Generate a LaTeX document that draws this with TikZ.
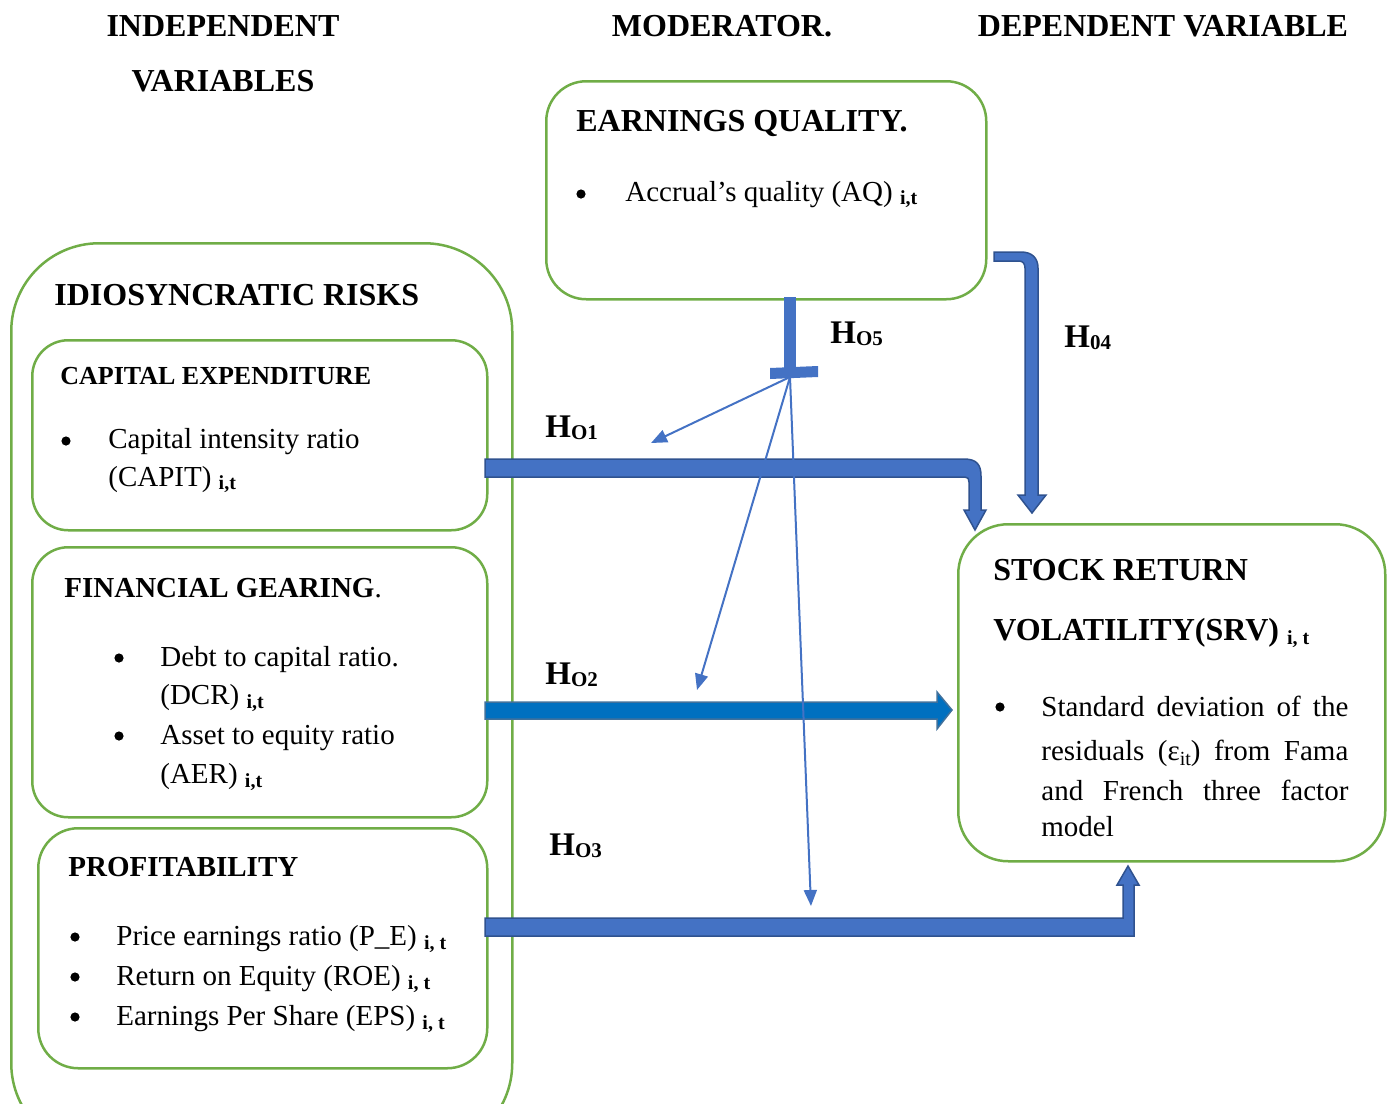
\documentclass[tikz,border=0pt]{standalone}
\usepackage{fontspec}
\setmainfont{Liberation Serif}
\usetikzlibrary{arrows.meta}
\definecolor{grn}{HTML}{70AD47}
\definecolor{blu}{HTML}{4472C4}
\definecolor{bluedge}{HTML}{2F528F}
\definecolor{blutwo}{HTML}{0070C0}
\definecolor{blutwoedge}{HTML}{41719C}
\newcommand{\fsz}[1]{\fontsize{#1}{#1}\selectfont}
\newcommand{\subit}[1]{\raisebox{-0.3ex}{\fsz{10}\bfseries #1}}
\newcommand{\hyp}[1]{\fsz{16.5}\bfseries H\raisebox{-1pt}{\fsz{10.5}#1}}
\begin{document}
\begin{tikzpicture}[x=0.5pt,y=-0.5pt,
  gbox/.style={draw=grn, line width=1.25pt, anchor=north west, inner sep=0pt},
  txt/.style={anchor=base west, inner sep=0pt, font=\fsz{14.5}},
  head/.style={anchor=base, inner sep=0pt, font=\fsz{16}\bfseries},
  ttl/.style={anchor=base west, inner sep=0pt, font=\fsz{16}\bfseries},
  sttl/.style={anchor=base west, inner sep=0pt, font=\fsz{14.5}\bfseries},
  bul/.style={circle, fill=black, inner sep=0pt, minimum size=4.6pt},
  hlab/.style={anchor=base west, inner sep=0pt},
  thick arrow/.style={fill=blu, draw=bluedge, line width=0.75pt, line join=miter},
  thin/.style={draw=blu, line width=1pt, -{Triangle[length=8pt,width=6.5pt]}}
]
\useasboundingbox (0,0) rectangle (1394,1104);
\clip (0,0) rectangle (1394,1104);

% headers
\node[head] (h1) at (223,36) {INDEPENDENT};
\node[head] (h2) at (223,91) {VARIABLES};
\node[head] (h3) at (722,36) {MODERATOR.};
\node[head] (h4) at (1163,36) {DEPENDENT VARIABLE};

% boxes
\node[gbox, rounded corners=20pt, minimum width=220pt, minimum height=109pt] (eq) at (545,80) {};
\node[gbox, rounded corners=44pt, minimum width=250.5pt, minimum height=454pt] (outer) at (10,242) {};
\node[gbox, rounded corners=18pt, minimum width=227.5pt, minimum height=95pt] (cap) at (31,339) {};
\node[gbox, rounded corners=18pt, minimum width=227.5pt, minimum height=135pt] (fin) at (31,546) {};
\node[gbox, rounded corners=20pt, minimum width=224.5pt, minimum height=120pt] (prof) at (37,827) {};
\node[gbox, rounded corners=25pt, minimum width=213.5pt, minimum height=168.5pt] (srv) at (957,523) {};

% earnings quality
\node[ttl] (eqt) at (576,131) {EARNINGS QUALITY.};
\node[bul] (eqb) at (581,194) {};
\node[txt] (eqx) at (625,201) {Accrual’s quality (AQ) \subit{i,t}};

% idiosyncratic
\node[ttl] (idt) at (54,305) {IDIOSYNCRATIC RISKS};

% capital
\node[anchor=base west, inner sep=0pt, font=\fsz{13}\bfseries] (capt) at (60,384) {CAPITAL EXPENDITURE};
\node[bul] (capb) at (66,441) {};
\node[txt] (capx1) at (108,448) {Capital intensity ratio};
\node[txt] (capx2) at (108,486) {(CAPIT) \subit{i,t}};

% financial
\node[sttl] (fint) at (64,597) {FINANCIAL GEARING\textmd{.}};
\node[bul] (finb1) at (119,658) {};
\node[txt] (finx1) at (160,666) {Debt to capital ratio.};
\node[txt] (finx2) at (160,704) {(DCR) \subit{i,t}};
\node[bul] (finb2) at (119,736) {};
\node[txt] (finx3) at (160,744) {Asset to equity ratio};
\node[txt] (finx4) at (160,783) {(AER) \subit{i,t}};

% profitability
\node[sttl] (proft) at (68,876) {PROFITABILITY};
\node[bul] (pb1) at (75,937) {};
\node[txt] (px1) at (116,945) {Price earnings ratio (P\_E) \subit{i, t}};
\node[bul] (pb2) at (75,977) {};
\node[txt] (px2) at (116,985) {Return on Equity (ROE) \subit{i, t}};
\node[bul] (pb3) at (75,1017) {};
\node[txt] (px3) at (116,1025) {Earnings Per Share (EPS) \subit{i, t}};

% SRV
\node[ttl] (srvt1) at (993,580) {STOCK RETURN};
\node[ttl] (srvt2) at (993,640) {VOLATILITY(SRV) \subit{i, t}};
\node[bul] (srvb) at (1000,707) {};
\node[txt] (srvx1) at (1041,716) {\hbox to 153.5pt{Standard\hfill deviation\hfill of\hfill the}};
\node[txt] (srvx2) at (1041,760) {\hbox to 153.5pt{residuals\hfill (ε\raisebox{-0.4ex}{\fsz{10}it})\hfill from\hfill Fama}};
\node[txt] (srvx3) at (1041,800) {\hbox to 153.5pt{and\hfill French\hfill three\hfill factor}};
\node[txt] (srvx4) at (1041,836) {model};

% hypothesis labels
\node[hlab] (ho1) at (545,437) {\hyp{O1}};
\node[hlab] (ho2) at (545,684) {\hyp{O2}};
\node[hlab] (ho3) at (549,855) {\hyp{O3}};
\node[hlab] (ho5) at (830,343) {\hyp{O5}};
\node[hlab] (ho4) at (1064,347) {\hyp{04}};

% Ho1 bent arrow
\filldraw[thick arrow] (485,459) -- (964,459) .. controls (977,459) and (981,465) .. (981,476)
  -- (981,510) -- (986,510) -- (975,530) -- (964,510) -- (969,510) -- (969,482)
  .. controls (969,479) and (968,477) .. (965,477) -- (485,477) -- cycle;

% Ho2 straight arrow
\filldraw[fill=blutwo, draw=blutwoedge, line width=0.75pt] (485,702) -- (937,702) -- (937,692) -- (952,710)
  -- (937,729) -- (937,719) -- (485,719) -- cycle;

% Ho3 bent arrow up
\filldraw[thick arrow] (485,918) -- (1123,918) -- (1123,885) -- (1117,885) -- (1128,866)
  -- (1139,885) -- (1134,885) -- (1134,936) -- (485,936) -- cycle;

% Ho4 bent arrow down
\filldraw[thick arrow] (994,252) -- (1021,252) .. controls (1032,252) and (1038,258) .. (1038,268)
  -- (1038,495) -- (1046,495) -- (1032,513) -- (1018,495) -- (1025,495) -- (1025,268)
  .. controls (1025,264) and (1023,261) .. (1019,261) -- (994,261) -- cycle;

% Ho5 moderator T
\fill[blu] (784,297) rectangle (796,368);
\fill[blu] (770,368) -- (818,366) -- (818,377) -- (770,379) -- cycle;
\coordinate (fan) at (790,377);
\coordinate (t1) at (651,443);
\coordinate (t2) at (697,690);
\coordinate (t3) at (811,906);
\draw[thin] (fan) -- (t1);
\draw[thin] (fan) -- (t2);
\draw[thin] (fan) -- (t3);
\end{tikzpicture}
\end{document}
